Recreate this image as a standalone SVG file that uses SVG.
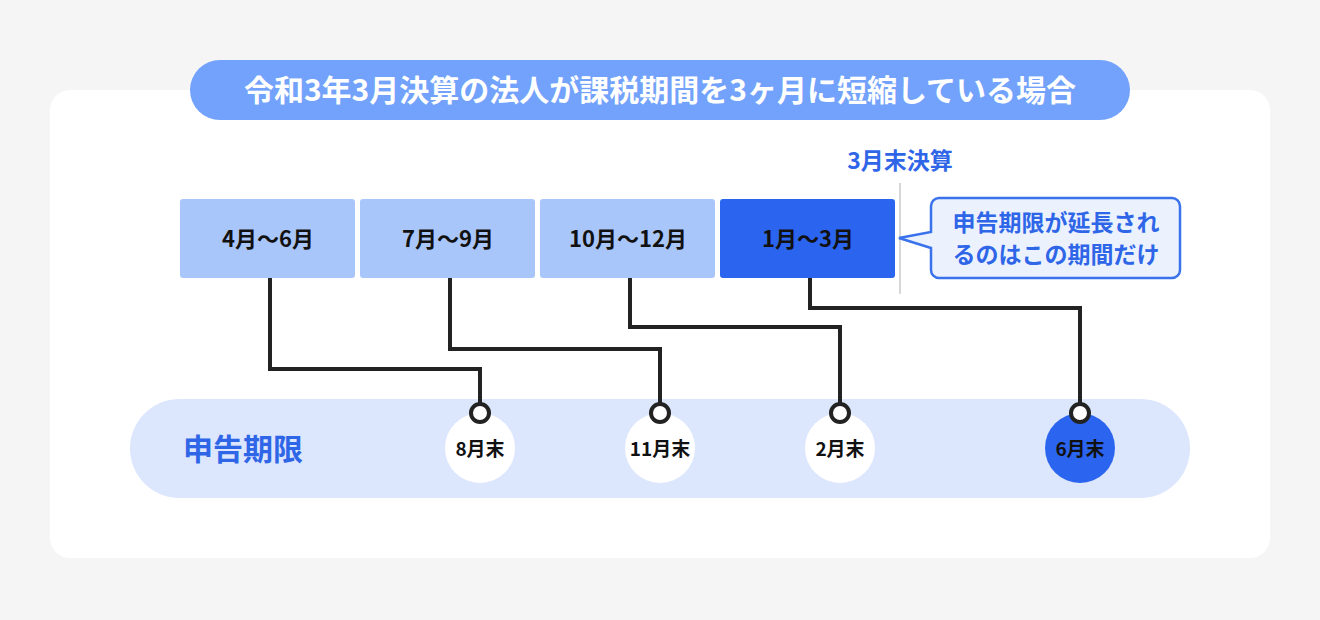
<svg xmlns="http://www.w3.org/2000/svg" width="1320" height="620" viewBox="0 0 1320 620">
<style>
text{font-family:"Noto Sans CJK JP","Noto Sans",sans-serif;font-weight:700;text-anchor:middle}
.bx{fill:#a9c6fb}
.bt{font-size:22px;fill:#111}
.ln{fill:none;stroke:#222;stroke-width:4}
.ring{fill:#fff;stroke:#222;stroke-width:4}
.dc{fill:#fff}
.dt{font-size:19px;fill:#111}
</style>
<rect width="1320" height="620" fill="#f6f5f6"/>
<rect x="50" y="90" width="1220" height="468" rx="20" fill="#fff"/>
<g id="title"><rect x="190" y="60" width="940" height="60" rx="30" fill="#72a2fb"/>
<text x="660" y="101" font-size="30" fill="#fff">令和3年3月決算の法人が課税期間を3ヶ月に短縮している場合</text></g>
<g id="kessan"><text x="900" y="169" font-size="23" fill="#2f66e8">3月末決算</text>
<line x1="900" y1="183" x2="900" y2="294" stroke="#d8d8d8" stroke-width="2"/></g>
<g id="q1"><rect class="bx" x="180" y="199" width="175" height="79" rx="3"/><text class="bt" x="268" y="247">4月〜6月</text></g>
<g id="q2"><rect class="bx" x="360" y="199" width="175" height="79" rx="3"/><text class="bt" x="448" y="247">7月〜9月</text></g>
<g id="q3"><rect class="bx" x="540" y="199" width="175" height="79" rx="3"/><text class="bt" x="628" y="247">10月〜12月</text></g>
<g id="q4"><rect x="720" y="199" width="175" height="79" rx="3" fill="#2b64ee"/><text class="bt" x="808" y="247" fill="#fff">1月〜3月</text></g>
<g id="callout"><path d="M939,198 H1172 a8,8 0 0 1 8,8 V270 a8,8 0 0 1 -8,8 H939 a8,8 0 0 1 -8,-8 V248 L899,238 L931,232 V206 a8,8 0 0 1 8,-8 Z" fill="#ebf2fe" stroke="#3a72ec" stroke-width="2.5"/>
<text x="1056" y="231" font-size="23" fill="#2f66e8">申告期限が延長され</text>
<text x="1056" y="263" font-size="23" fill="#2f66e8">るのはこの期間だけ</text></g>
<g id="band"><rect x="130" y="399" width="1060" height="99" rx="49.5" fill="#dce7fd"/>
<text x="243" y="460" font-size="30" fill="#2f66e8">申告期限</text></g>
<g id="connectors">
<path class="ln" d="M270,278 V369 H480 V404"/>
<path class="ln" d="M450,278 V349 H660 V404"/>
<path class="ln" d="M630,278 V327 H840 V404"/>
<path class="ln" d="M810,278 V308 H1080 V404"/>
</g>
<g id="d1"><circle class="dc" cx="480" cy="448" r="35"/><circle class="ring" cx="480" cy="413" r="9"/><text class="dt" x="480" y="456">8月末</text></g>
<g id="d2"><circle class="dc" cx="660" cy="448" r="35"/><circle class="ring" cx="660" cy="413" r="9"/><text class="dt" x="660" y="456">11月末</text></g>
<g id="d3"><circle class="dc" cx="840" cy="448" r="35"/><circle class="ring" cx="840" cy="413" r="9"/><text class="dt" x="840" y="456">2月末</text></g>
<g id="d4"><circle cx="1080" cy="448" r="35" fill="#2b64ee"/><circle class="ring" cx="1080" cy="413" r="9"/><text class="dt" x="1080" y="456" fill="#fff">6月末</text></g>
</svg>
